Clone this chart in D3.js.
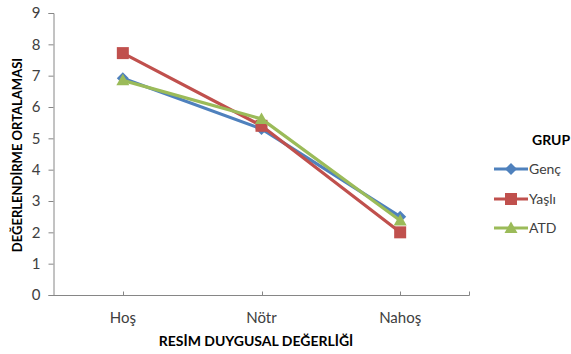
<!DOCTYPE html>
<html>
<head>
<meta charset="utf-8">
<script src="https://cdn.jsdelivr.net/npm/d3@7"></script>
<style>
  html, body { margin: 0; padding: 0; background: #fff; }
  svg { display: block; font-family: Lato, "Open Sans", sans-serif; }
</style>
</head>
<body>
<svg id="chart" width="571" height="354"></svg>
<script>
// Categories on the x axis
const categories = ["Hoş", "Nötr", "Nahoş"];
// Mean ratings per group
const gencValues = [6.92, 5.3, 2.5];
const yasliValues = [7.72, 5.4, 2.0];
const atdValues = [6.85, 5.62, 2.38];
const seriesNames = ["Genç", "Yaşlı", "ATD"];
const yTicks = [0, 1, 2, 3, 4, 5, 6, 7, 8, 9];

const series = [
  { name: seriesNames[0], values: gencValues, color: "#4F81BD", marker: "diamond" },
  { name: seriesNames[1], values: yasliValues, color: "#C0504D", marker: "square" },
  { name: seriesNames[2], values: atdValues, color: "#9BBB59", marker: "triangle" }
];

const svg = d3.select("#chart");
const axisColor = "#868686";

const x = d3.scalePoint().domain(categories).range([53.5, 469.5]).padding(0.5);
const y = d3.scaleLinear().domain([0, 9]).range([295, 13]);

// Y axis
const yAxis = svg.append("g").attr("transform", "translate(53.5,0)")
  .call(d3.axisLeft(y).tickValues(yTicks).tickSize(5).tickPadding(8));
yAxis.select(".domain").attr("stroke", axisColor);
yAxis.selectAll(".tick line").attr("stroke", axisColor);
yAxis.selectAll(".tick text").attr("fill", "#404040").style("font-size", "15px")
  .style("font-family", "Lato, sans-serif");

// X axis with inward ticks at category points and at the right end
const xAxisG = svg.append("g").attr("transform", "translate(0,295.5)");
xAxisG.append("line").attr("x1", 53.5).attr("x2", 469.5).attr("y1", 0).attr("y2", 0)
  .attr("stroke", axisColor);
xAxisG.selectAll(".xt").data(categories).enter().append("line")
  .attr("x1", d => Math.round(x(d)) + 0.5).attr("x2", d => Math.round(x(d)) + 0.5)
  .attr("y1", 0).attr("y2", -4).attr("stroke", axisColor);
xAxisG.append("line").attr("x1", 469.5).attr("x2", 469.5).attr("y1", 0).attr("y2", -4)
  .attr("stroke", axisColor);
xAxisG.selectAll(".xl").data(categories).enter().append("text")
  .attr("x", d => x(d)).attr("y", 27).attr("text-anchor", "middle")
  .attr("fill", "#404040").style("font-size", "15px").text(d => d);

// Axis titles
svg.append("text").attr("x", 256).attr("y", 346).attr("text-anchor", "middle")
  .style("font-size", "14px").style("font-weight", "bold").attr("fill", "#000")
  .text("RESİM DUYGUSAL DEĞERLİĞİ");
svg.append("text").attr("transform", "translate(22,155) rotate(-90)")
  .attr("text-anchor", "middle").style("font-size", "13px").style("font-weight", "bold")
  .attr("fill", "#000").text("DEĞERLENDİRME ORTALAMASI");

// Marker shapes
function markerPath(type) {
  if (type === "diamond") return "M0,-6L6,0L0,6L-6,0Z";
  if (type === "square") return "M-6,-6H6V6H-6Z";
  return "M0,-6.5L6.5,5L-6.5,5Z";
}

const line = d3.line().x((d, i) => x(categories[i])).y(d => y(d));

series.forEach(s => {
  const g = svg.append("g");
  g.append("path").datum(s.values).attr("d", line).attr("fill", "none")
    .attr("stroke", s.color).attr("stroke-width", 3.2).attr("stroke-linejoin", "round");
  g.selectAll("path.m").data(s.values).enter().append("path").attr("class", "m")
    .attr("transform", (d, i) => `translate(${x(categories[i])},${y(d)})`)
    .attr("d", markerPath(s.marker)).attr("fill", s.color);
});

// Legend
const legend = svg.append("g");
legend.append("text").attr("x", 532).attr("y", 145).style("font-size", "14px")
  .style("font-weight", "bold").attr("fill", "#000").text("GRUP");
const legendY = [169, 199, 228];
series.forEach((s, i) => {
  const gy = legendY[i];
  legend.append("line").attr("x1", 494).attr("x2", 528).attr("y1", gy).attr("y2", gy)
    .attr("stroke", s.color).attr("stroke-width", 3.2);
  legend.append("path").attr("transform", `translate(511,${gy})`)
    .attr("d", markerPath(s.marker)).attr("fill", s.color);
  legend.append("text").attr("x", 529).attr("y", gy + 5).style("font-size", "14px")
    .attr("fill", "#404040").text(s.name);
});
</script>
</body>
</html>
